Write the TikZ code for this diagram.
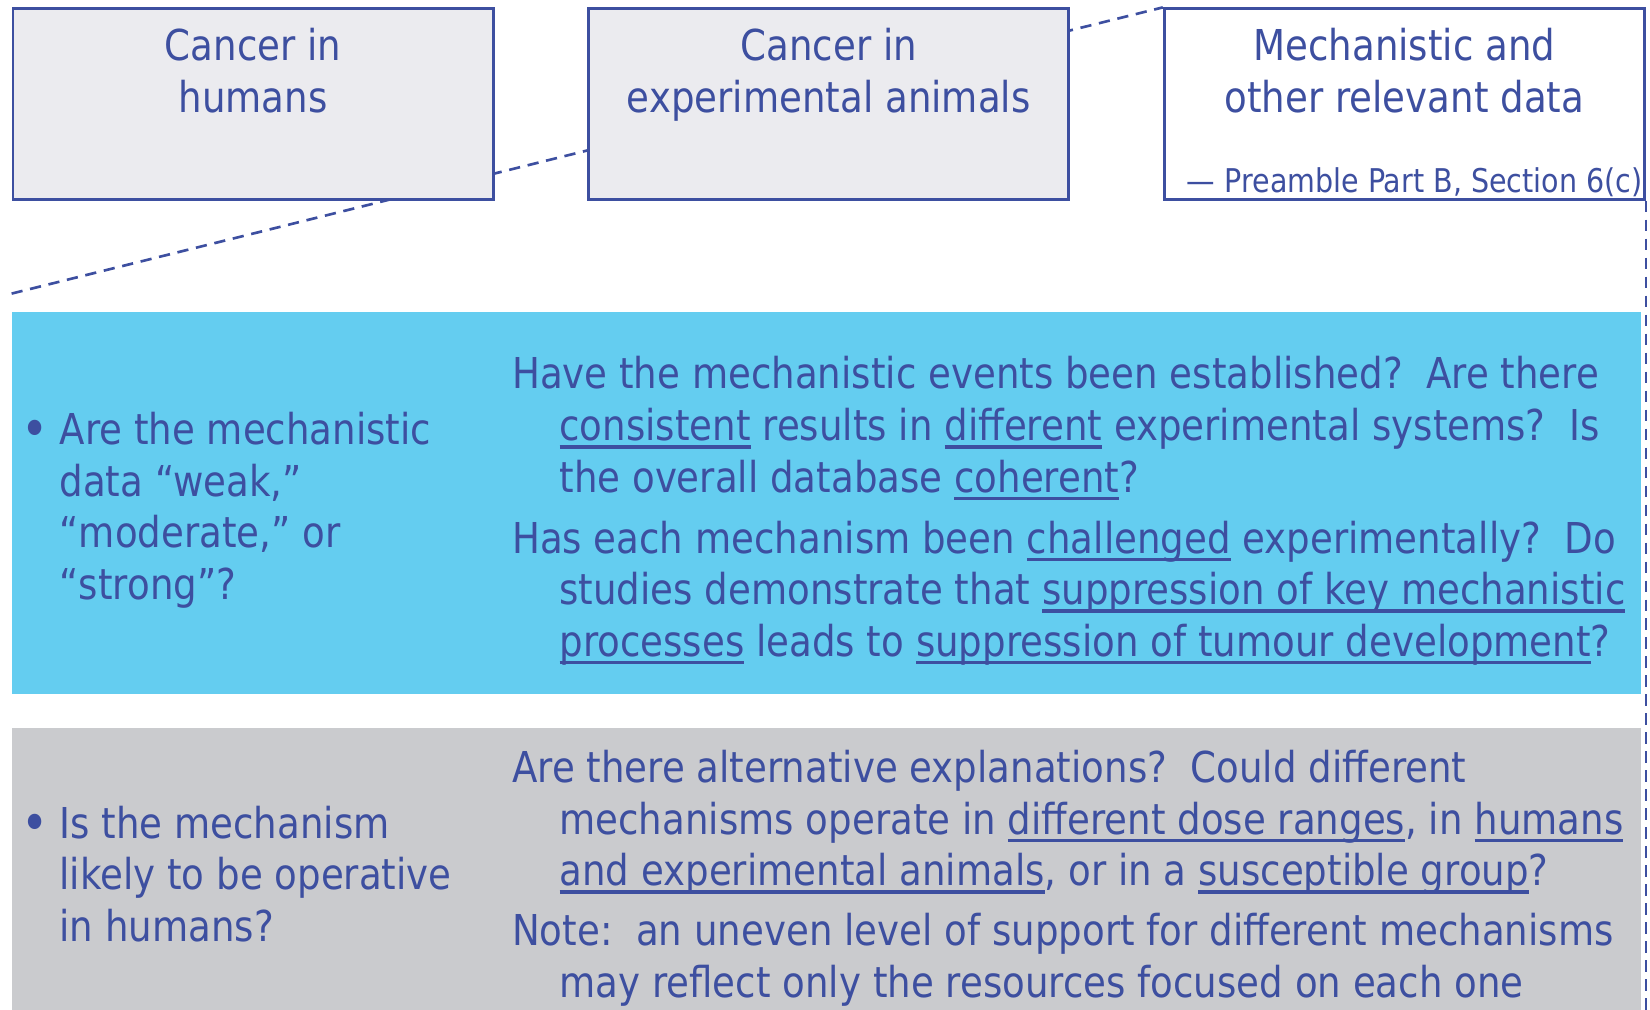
\documentclass[tikz,border=0pt]{standalone}
\usepackage{fontspec}
\setmainfont{DejaVu Sans}[FakeStretch=0.873]
\usetikzlibrary{positioning,backgrounds}

\definecolor{inkblue}{RGB}{61,79,160}
\definecolor{boxgray}{RGB}{235,235,239}
\definecolor{panelcyan}{RGB}{100,205,240}
\definecolor{panelgray}{RGB}{202,203,206}

\newsavebox\undlbox
\newcommand{\undl}[1]{\sbox\undlbox{#1}\rlap{\rule[-2.3pt]{\wd\undlbox}{1pt}}\usebox\undlbox}
\newcommand{\ind}{\hspace*{0.474cm}}
\newcommand{\bul}{\makebox[0.378cm][l]{\raisebox{-0.8pt}{\fontsize{15}{14}\selectfont •}}}
\newcommand{\bind}{\hspace*{0.378cm}}

\begin{document}
\begin{tikzpicture}
  [x=0.01cm,y=-0.01cm,
   every node/.style={text=inkblue,inner sep=0pt,font=\fontsize{12.1}{14.66}\selectfont},
   catbox/.style={draw=inkblue,line width=0.8pt,fill=boxgray,anchor=north west,
     minimum width=4.8cm,minimum height=1.904cm},
   boxtitle/.style={align=center,anchor=north},
   para/.style={align=left,anchor=north west},
   link/.style={draw=inkblue,line width=0.75pt,dash pattern=on 3.2pt off 2.2pt}]
  \useasboundingbox (0,0) rectangle (1650,1010);
  \node[catbox] (human) at (11.6,7.4) {};
  \node[catbox] (animal) at (587.2,7.4) {};
  \node[catbox,fill=white] (mech) at (1162.8,7.4) {};
  \node[boxtitle,below=0.165cm of human.north] (humantxt) {\strut Cancer in\\humans};
  \node[boxtitle,below=0.165cm of animal.north] (animaltxt) {\strut Cancer in\\experimental animals};
  \node[boxtitle,below=0.165cm of mech.north] (mechtxt) {\strut Mechanistic and\\other relevant data};
  \node[anchor=base east,font=\fontsize{9.3}{10}\selectfont] (cite)
    at ([shift={(-2.7,-8.4)}]mech.south east) {— Preamble Part B, Section 6(c)};

  \coordinate (linkstart) at (11.6,293.6);
  \coordinate (linkend) at (mech.south east |- 0,1010);
  \begin{scope}[on background layer]
    \fill[panelcyan] (11.6,312.5) rectangle (1641,694.5);
    \fill[panelgray] (11.6,728) rectangle (1641,1010);
    \draw[link] (linkstart) -- (mech.north west);
    \draw[link] (mech.south east) -- (linkend);
  \end{scope}

  \node[para] (strength) at (21.1,408.0)
    {\strut\bul Are the mechanistic\\\bind data “weak,”\\\bind “moderate,” or\\\bind “strong”?};
  \node[para] (events) at (511.4,352.2)
    {\strut Have the mechanistic events been established?\ \ Are there\\
     \ind\undl{consistent} results in \undl{different} experimental systems?\ \ Is\\
     \ind the overall database \undl{coherent}?};
  \node[para] (challenge) at (511.4,516.4)
    {\strut Has each mechanism been \undl{challenged} experimentally?\ \ Do\\
     \ind studies demonstrate that \undl{suppression of key mechanistic}\\
     \ind\undl{processes} leads to \undl{suppression of tumour development}?};
  \node[para] (relevance) at (21.1,801.5)
    {\strut\bul Is the mechanism\\\bind likely to be operative\\\bind in humans?};
  \node[para] (altern) at (511.4,745.7)
    {\strut Are there alternative explanations?\ \ Could different\\
     \ind mechanisms operate in \undl{different dose ranges}, in \undl{humans}\\
     \ind\undl{and experimental animals}, or in a \undl{susceptible group}?};
  \node[para] (note) at (511.4,908.9)
    {\strut Note:\ \ an uneven level of support for different mechanisms\\
     \ind may reflect only the resources focused on each one};
\end{tikzpicture}
\end{document}
